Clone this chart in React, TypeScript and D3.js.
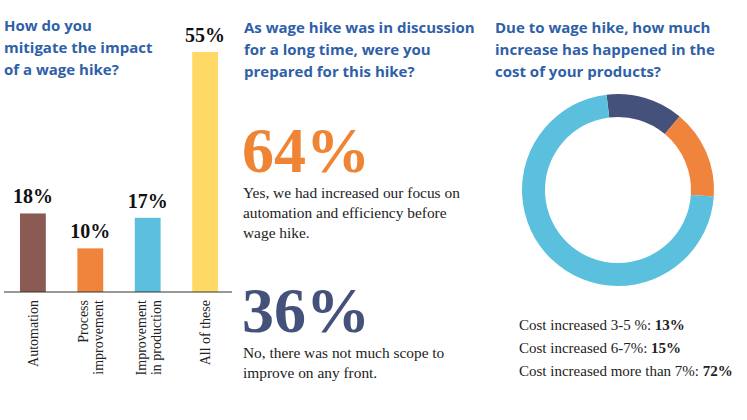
import React from 'react';
import * as d3 from 'd3';

const barCats = [['Automation'], ['Process', 'improvement'], ['Improvement', 'in production'], ['All of these']];
const barVals = [18, 10, 17, 55];
const barColors = ['#8b5a52', '#f0843c', '#5bc0de', '#ffd966'];

const pieLabels = ['Cost increased 3-5 %: ', 'Cost increased 6-7%: ', 'Cost increased more than 7%: '];
const pieVals = [13, 15, 72];
const pieColors = ['#44517a', '#f0843c', '#5bc0de'];

const titleFont = "'Open Sans', 'Noto Sans', sans-serif";
const serif = "'Liberation Serif', 'DejaVu Serif', serif";
const titleColor = '#2f5fa8';

export default function App() {
  const x = d3.scaleBand().domain(barCats.map((c) => c.join(' '))).range([20, 218]).paddingInner(0.55).paddingOuter(0);
  const y = d3.scaleLinear().domain([0, 55]).range([292, 52]);
  const pie = d3.pie<number>().sort(null).startAngle(-0.12).endAngle(Math.PI * 2 - 0.12)(pieVals);
  const arc = d3.arc<d3.PieArcDatum<number>>().innerRadius(73).outerRadius(96);

  return (
    <svg width={747} height={420} style={{ position: 'absolute', left: 0, top: 0, background: '#fff' }}>
      <g fontFamily={titleFont} fontWeight="bold" fontSize={15} fill={titleColor}>
        <text x={4} y={31}>How do you</text>
        <text x={4} y={53}>mitigate the impact</text>
        <text x={4} y={75}>of a wage hike?</text>
        <text x={244} y={33}>As wage hike was in discussion</text>
        <text x={244} y={55}>for a long time, were you</text>
        <text x={244} y={77}>prepared for this hike?</text>
        <text x={495} y={33}>Due to wage hike, how much</text>
        <text x={495} y={55}>increase has happened in the</text>
        <text x={495} y={77}>cost of your products?</text>
      </g>
      {barVals.map((v, i) => {
        const key = barCats[i].join(' ');
        const bx = x(key)!;
        const cx = bx + x.bandwidth() / 2;
        return (
          <g key={key}>
            <rect x={bx} y={y(v)} width={x.bandwidth()} height={y(0) - y(v)} fill={barColors[i]} />
            <text x={cx} y={y(v) - 10} textAnchor="middle" fontFamily={serif} fontWeight="bold" fontSize={20} fill="#111">{v}%</text>
            <text transform={`translate(${cx},300) rotate(-90)`} textAnchor="end" fontFamily={serif} fontSize={14} fill="#222">
              {barCats[i].map((l, j) => (
                <tspan key={j} x={0} dy={j === 0 ? (barCats[i].length === 1 ? 5 : -2) : 15}>{l}</tspan>
              ))}
            </text>
          </g>
        );
      })}
      <line x1={4} x2={232} y1={292} y2={292} stroke="#333" strokeWidth={1} />
      <g fontFamily={serif}>
        <text x={242} y={172} fontSize={64} fontWeight="bold" fill="#ee8434">64%</text>
        <text x={243} y={198} fontSize={15.4} fill="#222">Yes, we had increased our focus on</text>
        <text x={243} y={218} fontSize={15.4} fill="#222">automation and efficiency before</text>
        <text x={243} y={238} fontSize={15.4} fill="#222">wage hike.</text>
        <text x={242} y={332} fontSize={64} fontWeight="bold" fill="#44517a">36%</text>
        <text x={243} y={358} fontSize={15.4} fill="#222">No, there was not much scope to</text>
        <text x={243} y={378} fontSize={15.4} fill="#222">improve on any front.</text>
      </g>
      <g transform="translate(618,190)">
        {pie.map((d, i) => <path key={i} d={arc(d)!} fill={pieColors[i]} />)}
      </g>
      <g fontFamily={serif} fontSize={15} fill="#222">
        {pieLabels.map((l, i) => (
          <text key={i} x={519} y={330 + i * 23}>{l}<tspan fontWeight="bold">{pieVals[i]}%</tspan></text>
        ))}
      </g>
    </svg>
  );
}
